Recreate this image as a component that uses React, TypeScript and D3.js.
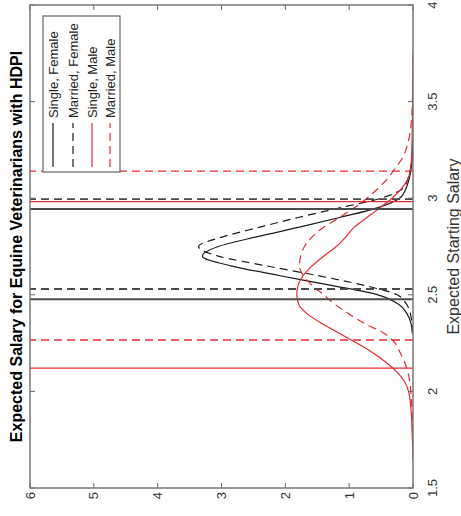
import React from 'react';
import * as d3 from 'd3';

const salaryTicks = [1.5, 2, 2.5, 3, 3.5, 4];
const salaryTickLabels = ['1.5', '2', '2.5', '3', '3.5', '4'];
const densityTicks = [0, 1, 2, 3, 4, 5, 6];

const femaleSalary = [2.3, 2.35, 2.4, 2.45, 2.5, 2.55, 2.6, 2.65, 2.7, 2.75, 2.8, 2.85, 2.9, 2.95, 3.0, 3.05, 3.1, 3.15, 3.2, 3.3];
const singleFemale = [0.01, 0.03, 0.09, 0.22, 0.55, 1.3, 2.1, 2.85, 3.3, 3.05, 2.45, 1.78, 1.15, 0.56, 0.21, 0.11, 0.06, 0.03, 0.015, 0.0];
const marriedFemale = [0.005, 0.015, 0.04, 0.1, 0.25, 0.78, 1.5, 2.3, 3.05, 3.36, 2.98, 2.4, 1.8, 1.15, 0.5, 0.16, 0.08, 0.04, 0.02, 0.0];

const maleSalary = [1.65, 1.7, 1.8, 1.9, 2.0, 2.05, 2.1, 2.15, 2.2, 2.25, 2.3, 2.35, 2.4, 2.45, 2.5, 2.55, 2.6, 2.65, 2.7, 2.75, 2.8, 2.85, 2.9, 2.95, 3.0, 3.05, 3.1, 3.15, 3.2, 3.3, 3.4, 3.5, 3.6, 3.75];
const singleMale = [0.0, 0.005, 0.015, 0.03, 0.07, 0.13, 0.25, 0.42, 0.63, 0.88, 1.15, 1.42, 1.65, 1.79, 1.82, 1.8, 1.72, 1.58, 1.4, 1.2, 1.05, 0.92, 0.72, 0.52, 0.33, 0.18, 0.08, 0.04, 0.025, 0.015, 0.01, 0.005, 0.003, 0.0];
const marriedMale = [0.0, 0.003, 0.008, 0.015, 0.035, 0.05, 0.08, 0.13, 0.2, 0.28, 0.45, 0.75, 1.0, 1.22, 1.4, 1.58, 1.72, 1.78, 1.76, 1.7, 1.58, 1.4, 1.15, 0.92, 0.72, 0.55, 0.4, 0.29, 0.18, 0.07, 0.025, 0.01, 0.004, 0.0];

const seriesNames = ['Single, Female', 'Married, Female', 'Single, Male', 'Married, Male'];
const hdpiLower = [2.477, 2.53, 2.12, 2.266];
const hdpiUpper = [2.944, 2.995, 2.982, 3.14];

const W = 483;
const H = 383;
const BLACK = '#1a1a1a';
const RED = '#ea2a30';
const colors = [BLACK, BLACK, RED, RED];
const dashes = [undefined, '8,5', undefined, '8,5'];
const FONT = 'Arial, "Liberation Sans", Helvetica, sans-serif';

export default function App() {
  const x = d3.scaleLinear().domain([1.5, 4]).range([0, W]);
  const y = d3.scaleLinear().domain([0, 6]).range([H, 0]);
  const line = d3
    .line<[number, number]>()
    .x((d) => x(d[0]))
    .y((d) => y(d[1]))
    .curve(d3.curveMonotoneX);

  const curves: [number, number][][] = [
    femaleSalary.map((s, i) => [s, singleFemale[i]] as [number, number]),
    femaleSalary.map((s, i) => [s, marriedFemale[i]] as [number, number]),
    maleSalary.map((s, i) => [s, singleMale[i]] as [number, number]),
    maleSalary.map((s, i) => [s, marriedMale[i]] as [number, number]),
  ];

  const legendX = 316;
  const legendY = 13;
  const legendW = 156;
  const legendH = 77;
  const rowY = [23, 43, 62, 80];

  return (
    <svg
      width={461}
      height={516}
      style={{ position: 'absolute', left: 0, top: 0, background: '#fff' }}
      fontFamily={FONT}
    >
      <rect x={0} y={0} width={461} height={516} fill="#fff" />
      <g transform="translate(30,488) rotate(-90)">
        <defs>
          <clipPath id="plotclip">
            <rect x={0} y={0} width={W} height={H} />
          </clipPath>
        </defs>
        <g clipPath="url(#plotclip)">
          {curves.map((c, i) => (
            <path
              key={'c' + i}
              d={line(c) || ''}
              fill="none"
              stroke={colors[i]}
              strokeWidth={1.2}
              strokeDasharray={dashes[i]}
            />
          ))}
          {seriesNames.map((_, i) =>
            [hdpiLower[i], hdpiUpper[i]].map((v, j) => (
              <line
                key={'h' + i + '-' + j}
                x1={x(v)}
                x2={x(v)}
                y1={y(0)}
                y2={y(6)}
                stroke={i < 2 ? '#4a4a4a' : RED}
                strokeWidth={i < 2 ? 1.8 : 1.3}
                strokeDasharray={dashes[i]}
              />
            ))
          )}
        </g>
        {/* ticks */}
        {salaryTicks.map((t, i) => (
          <g key={'xt' + i}>
            <line x1={x(t)} x2={x(t)} y1={H} y2={H - 5} stroke="#666" strokeWidth={1} />
            <line x1={x(t)} x2={x(t)} y1={0} y2={5} stroke="#666" strokeWidth={1} />
            <text
              x={x(t)}
              y={H + 19}
              textAnchor="middle"
              dominantBaseline="central"
              fontSize={13}
              fill="#333"
            >
              {salaryTickLabels[i]}
            </text>
          </g>
        ))}
        {densityTicks.map((t, i) => (
          <g key={'yt' + i}>
            <line x1={0} x2={5} y1={y(t)} y2={y(t)} stroke="#666" strokeWidth={1} />
            <line x1={W} x2={W - 5} y1={y(t)} y2={y(t)} stroke="#666" strokeWidth={1} />
            <text
              x={-4}
              y={y(t)}
              textAnchor="end"
              dominantBaseline="central"
              fontSize={13}
              fill="#333"
            >
              {String(t)}
            </text>
          </g>
        ))}
        <rect x={0} y={0} width={W} height={H} fill="none" stroke="#777" strokeWidth={1.5} />
        {/* legend */}
        <rect x={legendX} y={legendY} width={legendW} height={legendH} fill="#fff" stroke="#666" strokeWidth={1.2} />
        {seriesNames.map((n, i) => (
          <g key={'lg' + i}>
            <line
              x1={legendX + 5}
              x2={legendX + 49}
              y1={rowY[i]}
              y2={rowY[i]}
              stroke={colors[i]}
              strokeWidth={1.2}
              strokeDasharray={dashes[i]}
            />
            <text x={legendX + 54} y={rowY[i]} dominantBaseline="central" fontSize={13} fill="#222">
              {n}
            </text>
          </g>
        ))}
        <text
          x={W / 2}
          y={-14}
          textAnchor="middle"
          dominantBaseline="central"
          fontSize={16}
          fontWeight="bold"
          fill="#000"
        >
          Expected Salary for Equine Veterinarians with HDPI
        </text>
        <text
          x={W / 2}
          y={H + 40}
          textAnchor="middle"
          dominantBaseline="central"
          fontSize={16}
          fill="#333"
        >
          Expected Starting Salary
        </text>
      </g>
    </svg>
  );
}
